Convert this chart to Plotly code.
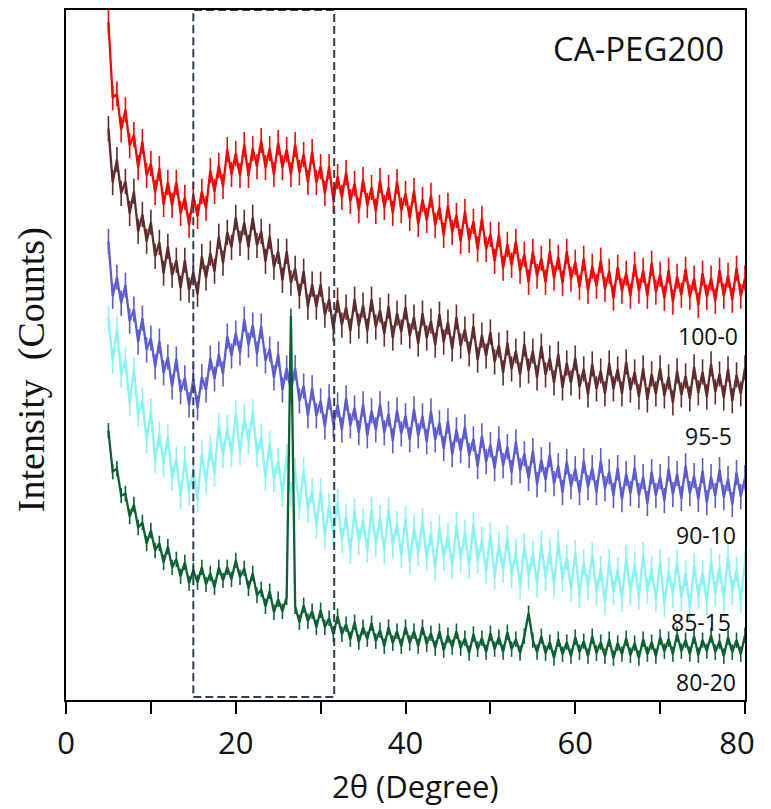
import plotly.graph_objects as go

# 2-theta sampling grid (degrees), 0.5 deg step from 5 to 80
two_theta = [5 + 0.5 * i for i in range(151)]

# stacked intensities (arbitrary counts, offset per sample)
red_100_0 = [
    680, 604, 608, 572, 592, 556, 567, 534, 560, 526,
    538, 509, 533, 497, 519, 496, 519, 488, 504, 476,
    506, 485, 510, 493, 531, 510, 536, 515, 552, 527,
    548, 526, 557, 526, 553, 535, 561, 534, 553, 527,
    559, 534, 552, 527, 557, 529, 547, 519, 550, 519,
    535, 508, 535, 501, 525, 504, 529, 500, 518, 491,
    522, 496, 514, 490, 521, 494, 514, 488, 520, 491,
    508, 483, 511, 477, 502, 481, 506, 476, 494, 466,
    496, 469, 486, 460, 490, 461, 480, 452, 483, 452,
    467, 440, 467, 433, 457, 436, 460, 430, 447, 419,
    450, 425, 443, 419, 450, 423, 444, 418, 450, 422,
    439, 414, 443, 410, 435, 415, 441, 412, 430, 403,
    434, 410, 428, 405, 437, 410, 431, 405, 438, 409,
    427, 403, 431, 399, 425, 406, 432, 404, 423, 396,
    428, 404, 423, 400, 431, 405, 426, 401, 433, 405, 423,
]
brown_95_5 = [
    573, 519, 542, 508, 520, 488, 510, 470, 487, 460,
    479, 445, 459, 428, 455, 426, 441, 413, 441, 411,
    429, 407, 445, 423, 448, 430, 465, 438, 469, 454,
    484, 458, 479, 454, 484, 456, 470, 440, 465, 434,
    450, 421, 450, 418, 433, 405, 430, 394, 417, 394,
    417, 386, 402, 372, 401, 376, 394, 370, 402, 375,
    396, 370, 402, 374, 391, 367, 395, 363, 388, 369,
    394, 365, 384, 357, 388, 363, 380, 356, 387, 359,
    379, 352, 384, 355, 372, 347, 375, 341, 366, 345,
    369, 339, 356, 328, 358, 332, 350, 326, 357, 330,
    350, 323, 355, 326, 343, 318, 347, 313, 338, 318,
    343, 314, 332, 306, 337, 312, 330, 307, 338, 312,
    332, 307, 339, 311, 329, 304, 333, 301, 327, 307,
    333, 305, 324, 298, 330, 306, 325, 302, 334, 308,
    329, 304, 337, 309, 327, 303, 332, 300, 326, 307, 333,
]
blue_90_10 = [
    460, 405, 424, 398, 416, 380, 392, 359, 383, 351,
    363, 334, 360, 328, 344, 314, 342, 309, 323, 296,
    322, 293, 324, 311, 343, 322, 347, 327, 365, 345,
    368, 348, 382, 356, 376, 347, 375, 340, 352, 323,
    347, 311, 333, 310, 333, 300, 315, 285, 313, 285,
    300, 274, 304, 276, 296, 271, 303, 275, 293, 268,
    297, 265, 290, 271, 297, 268, 287, 260, 291, 267,
    285, 261, 292, 265, 285, 259, 290, 261, 278, 252,
    280, 246, 271, 250, 274, 245, 262, 234, 265, 239,
    256, 232, 262, 235, 254, 228, 259, 230, 247, 222,
    250, 216, 241, 221, 246, 217, 235, 208, 239, 214,
    232, 208, 240, 213, 233, 208, 240, 212, 229, 205,
    233, 201, 227, 207, 233, 205, 224, 197, 229, 205,
    224, 200, 232, 206, 227, 202, 235, 207, 225, 201,
    230, 198, 224, 205, 231, 203, 222, 196, 228, 204, 223,
]
cyan_85_15 = [
    383, 340, 372, 326, 341, 298, 331, 286, 300, 260,
    290, 240, 267, 236, 264, 222, 242, 204, 242, 208,
    230, 201, 247, 219, 253, 227, 276, 245, 273, 246,
    288, 248, 284, 259, 289, 246, 264, 223, 257, 221,
    240, 206, 244, 206, 230, 193, 231, 191, 210, 175,
    210, 164, 195, 167, 199, 160, 184, 149, 190, 158,
    180, 150, 191, 156, 183, 149, 191, 155, 177, 145,
    182, 139, 173, 147, 180, 142, 167, 132, 173, 142,
    165, 134, 176, 141, 168, 134, 176, 139, 161, 129,
    166, 123, 156, 130, 163, 125, 149, 114, 155, 124,
    147, 116, 157, 122, 149, 116, 158, 121, 143, 111,
    148, 105, 138, 113, 146, 108, 132, 98, 139, 108,
    131, 101, 143, 108, 136, 103, 146, 109, 132, 101,
    139, 96, 130, 105, 139, 102, 127, 93, 135, 104,
    128, 98, 140, 106, 134, 101, 144, 108, 131, 100, 138,
]
green_80_20 = [
    270, 229, 232, 205, 207, 184, 196, 173, 178, 157,
    170, 150, 157, 138, 154, 133, 141, 124, 138, 117,
    130, 118, 133, 116, 127, 113, 133, 120, 133, 121,
    140, 123, 132, 112, 127, 105, 111, 94, 109, 88,
    101, 89, 103, 385, 94, 78, 95, 79, 89, 73,
    90, 73, 82, 66, 84, 66, 76, 61, 78, 58,
    73, 61, 77, 59, 70, 54, 73, 57, 69, 54,
    73, 57, 69, 54, 73, 56, 67, 52, 69, 50,
    65, 53, 69, 52, 62, 47, 66, 51, 62, 48,
    67, 51, 63, 48, 68, 51, 61, 47, 64, 87,
    60, 48, 64, 47, 58, 42, 61, 46, 58, 44,
    63, 48, 59, 44, 64, 47, 58, 44, 61, 42,
    57, 46, 62, 45, 57, 42, 61, 46, 58, 44,
    63, 49, 61, 46, 66, 49, 60, 46, 64, 45,
    60, 49, 65, 48, 59, 44, 63, 48, 60, 46, 65,
]

series = [
    ("100-0", red_100_0, "#ff0000", 18),
    ("95-5", brown_95_5, "#622b2b", 18),
    ("90-10", blue_90_10, "#5b5bd4", 18),
    ("85-15", cyan_85_15, "#86f4f4", 18),
    ("80-20", green_80_20, "#0b6132", 11),
]

# label positions (x in degrees, y in the stacked counts scale)
label_x = [79.4, 78.7, 79.2, 78.6, 79.2]
label_y = [365, 265, 165, 78, 18]

x_ticks = [0, 10, 20, 30, 40, 50, 60, 70, 80]
# trailing no-break spaces pull the last label back inside the page edge
x_tick_text = ["0", "", "20", "", "40", "", "60", "", "80\u00a0\u00a0"]

# dashed region marking the amorphous halo
box_x = [15, 31.6]

fig = go.Figure()
for name, vals, col, tick in series:
    # zigzag line plus short vertical strokes at each sample for the noisy band look
    fig.add_trace(go.Scatter(x=two_theta, y=vals, mode="lines+markers", name=name,
                             line=dict(color=col, width=2.3),
                             marker=dict(symbol="line-ns", size=tick,
                                         line=dict(color=col, width=1.6))))

for (name, _, _, _), lx, ly in zip(series, label_x, label_y):
    fig.add_annotation(x=lx, y=ly, text=name, showarrow=False, xanchor="right",
                       yanchor="middle", font=dict(family="Open Sans", size=23, color="#111"))

fig.add_annotation(x=77.8, y=653, text="CA-PEG200", showarrow=False, xanchor="right",
                   yanchor="middle", font=dict(family="Open Sans", size=33, color="#111"))

fig.add_annotation(x=41.2, y=-0.124, yref="paper", text="2θ (Degree)", showarrow=False,
                   xanchor="center", yanchor="middle",
                   font=dict(family="Open Sans", size=31, color="#111"))

fig.add_annotation(x=0, xref="paper", xshift=-35, y=0.478, yref="paper",
                   text="Intensity  (Counts)", textangle=-90, showarrow=False,
                   xanchor="center", yanchor="middle",
                   font=dict(family="Liberation Serif", size=38, color="#111"))

fig.add_shape(type="rect", x0=box_x[0], x1=box_x[1], y0=3, y1=692, layer="above",
              line=dict(color="#2f3d52", width=2, dash="8px,4px"))

# the page body adds an 8px margin, so the figure is 8px smaller and shifted
fig.update_layout(
    width=763, height=801,
    margin=dict(l=58, r=17, t=0, b=109),
    plot_bgcolor="white", paper_bgcolor="white",
    showlegend=False,
    xaxis=dict(range=[0, 80], tickvals=x_ticks, ticktext=x_tick_text,
               ticks="outside", ticklen=12, tickwidth=2, tickcolor="black",
               showline=True, linecolor="black", linewidth=2, mirror=True,
               showgrid=False, zeroline=False, ticklabelstandoff=3,
               ticklabeloverflow="allow",
               tickfont=dict(family="Open Sans", size=31, color="#111")),
    yaxis=dict(range=[0, 692], showticklabels=False, ticks="",
               showline=True, linecolor="black", linewidth=2, mirror=True,
               showgrid=False, zeroline=False),
)

fig.write_html("out.html")
